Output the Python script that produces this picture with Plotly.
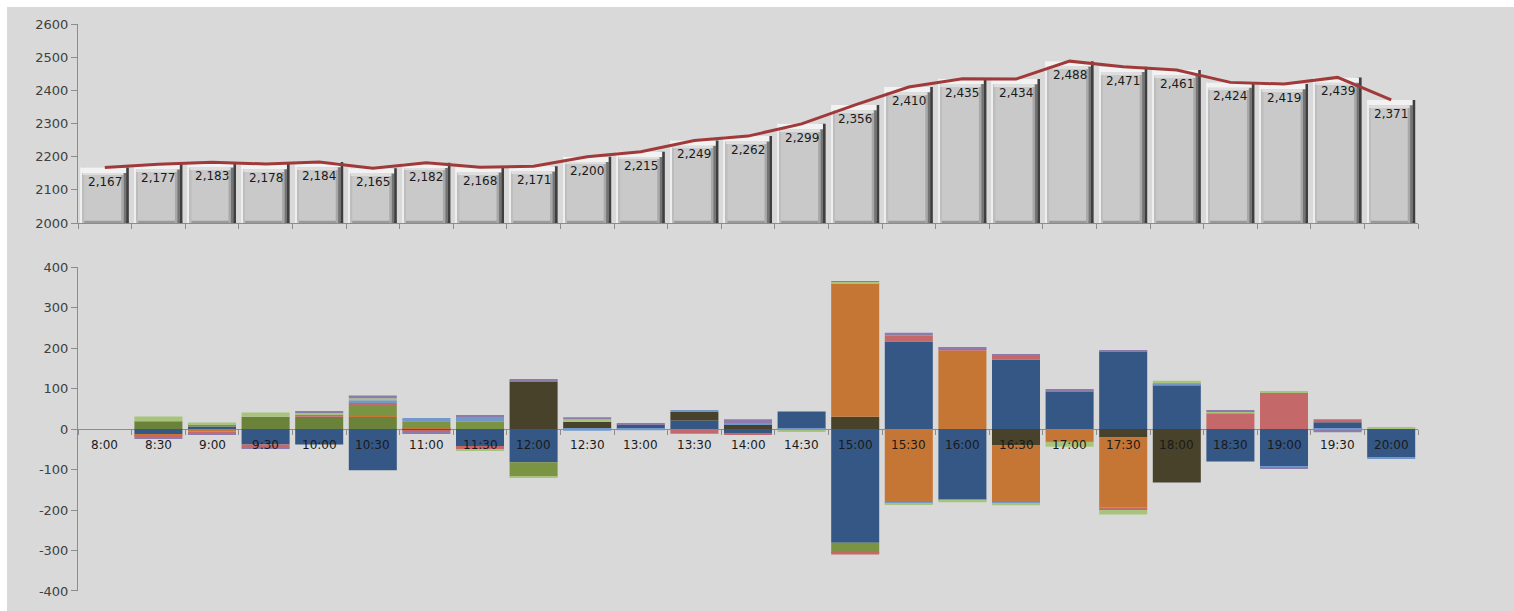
import plotly.graph_objects as go

# ---- data -------------------------------------------------------------
times = ["8:00", "8:30", "9:00", "9:30", "10:00", "10:30", "11:00", "11:30",
         "12:00", "12:30", "13:00", "13:30", "14:00", "14:30", "15:00", "15:30",
         "16:00", "16:30", "17:00", "17:30", "18:00", "18:30", "19:00", "19:30",
         "20:00"]

totals = [2167, 2177, 2183, 2178, 2184, 2165, 2182, 2168, 2171, 2200, 2215,
          2249, 2262, 2299, 2356, 2410, 2435, 2434, 2488, 2471, 2461, 2424,
          2419, 2439, 2371]

# per-slot changes, one list per group (stacked in this order)
g_darkgreen = [0, 19, 0, 30, 30, 30, 0, 0, 0, 0, 0, 0, 0, 0, 0, 0, 0, 0, 0, 0, 0, 0, 0, 0, 0]
g_blue = [0, -13, 6, -38, -38, -102, -4, -42, -82, 0, 11, 21, -12, 43, -281, 216,
          -174, 171, 92, 192, 108, -80, -93, 17, -70]
g_brown = [0, 0, 0, 0, 0, 0, 0, 0, 117, 18, 0, 21, 10, 0, 30, 0, 0, -41, 0, -21,
           -132, 0, 0, 0, 0]
g_orange = [0, -4, -6, 0, 0, 3, 4, 0, 0, 0, 0, 0, 0, 0, 330, -181, 193, -141, -30,
            -173, 0, 0, 0, 0, 0]
g_olive = [0, 0, 6, 0, 0, 24, 15, 18, -35, 0, 0, 0, 0, 0, -25, 0, 0, 0, 0, 0, 0,
           0, 0, 0, 0]
g_red = [0, -3, -5, -8, 6, 7, -4, -8, 2, 0, 0, -12, -3, 0, -4, 15, 6, 11, 4, -6,
         3, 39, 90, 7, 0]
g_lightblue = [0, 0, 0, 0, 0, 7, 8, 13, 0, -4, -3, 4, 5, -3, 0, -2, -3, -2, -2, 0,
               2, 0, -3, -4, -4]
g_lightgreen = [0, 12, 4, 11, 4, 5, 0, -3, -2, 6, 0, 0, 0, -2, 3, -4, -4, -4, -12,
                -11, 6, 5, 2, 0, 3]
g_purple = [0, -3, -3, -2, 4, 7, -3, 3, 2, 5, 3, 0, 9, 0, 2, 7, 3, 3, 3, 2, 0, 2,
            -2, -4, 0]

top_ticks = [2000, 2100, 2200, 2300, 2400, 2500, 2600]
bottom_ticks = [-400, -300, -200, -100, 0, 100, 200, 300, 400]
bottom_tick_text = ["-400", "-300", "-200", "-100", "0", "100", "200", "300", "400"]

# ---- style ------------------------------------------------------------
W, H = 1514, 611
ML, MR, MT, MB = 78, 96, 24, 20
BG = "#d9d9d9"
AXIS = "#8c8c8c"
FONT = "DejaVu Sans"
TOP_DOMAIN = [0.649, 1.0]
BOT_DOMAIN = [0.0, 0.5714]

groups = [
    ("Group 1", g_darkgreen, "#6a8239"),
    ("Group 2", g_blue, "#345785"),
    ("Group 3", g_brown, "#48422a"),
    ("Group 4", g_orange, "#c57634"),
    ("Group 5", g_olive, "#7b9444"),
    ("Group 6", g_red, "#c4686a"),
    ("Group 7", g_lightblue, "#7298c9"),
    ("Group 8", g_lightgreen, "#a8c47c"),
    ("Group 9", g_purple, "#8d7bab"),
]

fig = go.Figure()

# ---- top panel: bevelled total bars ------------------------------------
half = 0.448
n = len(totals)


def top_bar(y, base, offset, width, color):
    fig.add_bar(x=times, y=y, base=base, offset=offset, width=width,
                marker=dict(color=color, line=dict(width=0)),
                xaxis="x", yaxis="y", hoverinfo="skip", showlegend=False)


top_bar(totals, 0, -half, 2 * half, "#c9c9c9")                       # face
top_bar([7] * n, 2000, -half, 2 * half, "#9a9a9a")                  # bottom edge
top_bar(totals, 0, -half, 0.035, "#eeeeee")                         # left highlight
top_bar(totals, 0, -half + 0.035, 0.03, "#bdbdbd")
top_bar(totals, 0, half - 0.14, 0.045, "#a8a8a8")                   # right shading
top_bar(totals, 0, half - 0.095, 0.045, "#747474")
top_bar(totals, 0, half - 0.05, 0.05, "#3f3f3f")
top_bar([16] * n, [v - 16 for v in totals], -half, 2 * half - 0.05, "#f2f2f2")  # top bevel
top_bar([6] * n, [v - 22 for v in totals], -half + 0.035, 2 * half - 0.14, "#dedede")

fig.add_scatter(x=times, y=totals, mode="lines", xaxis="x", yaxis="y",
                line=dict(color="#a03a3a", width=3), hoverinfo="skip",
                showlegend=False)

annotations = []
for t, v in zip(times, totals):
    annotations.append(dict(x=t, y=v, xref="x", yref="y", yshift=-14,
                            text=f"{v:,}", showarrow=False,
                            font=dict(family=FONT, size=12, color="#1a1a1a")))

# ---- bottom panel: stacked changes -------------------------------------
for name, vals, color in groups:
    fig.add_bar(x=times, y=vals, name=name, width=2 * half,
                marker=dict(color=color, line=dict(width=0)),
                xaxis="x2", yaxis="y2", hoverinfo="skip", showlegend=False)

for t in times:
    annotations.append(dict(x=t, y=0, xref="x2", yref="y2", yshift=-16,
                            text=t, showarrow=False,
                            font=dict(family=FONT, size=12, color="#1a1a1a")))

# white frame strip on the left and top edges
plot_w = W - ML - MR
plot_h = H - MT - MB
shapes = [
    dict(type="rect", xref="paper", yref="paper",
         x0=-ML / plot_w, x1=(7 - ML) / plot_w,
         y0=-MB / plot_h, y1=(H - MB) / plot_h,
         fillcolor="white", line=dict(width=0), layer="above"),
    dict(type="rect", xref="paper", yref="paper",
         x0=-ML / plot_w, x1=(W - ML) / plot_w,
         y0=(H - MB - 7) / plot_h, y1=(H - MB) / plot_h,
         fillcolor="white", line=dict(width=0), layer="above"),
]

tickfont = dict(family=FONT, size=13, color="#404040")
zero_pos = BOT_DOMAIN[0] + (BOT_DOMAIN[1] - BOT_DOMAIN[0]) / 2

fig.update_layout(
    width=W, height=H,
    margin=dict(l=ML, r=MR, t=MT, b=MB, pad=0),
    paper_bgcolor=BG, plot_bgcolor=BG,
    barmode="relative", bargap=0.104,
    showlegend=False,
    annotations=annotations,
    shapes=shapes,
    xaxis=dict(domain=[0, 1], anchor="y", type="category",
               range=[-0.5, n - 0.5], showline=True, linecolor=AXIS,
               linewidth=1, ticks="outside", tickson="boundaries", ticklen=5,
               tickcolor=AXIS, showticklabels=False, showgrid=False,
               zeroline=False),
    yaxis=dict(domain=TOP_DOMAIN, anchor="x", range=[2000, 2600],
               tickvals=top_ticks, ticks="outside", ticklen=6, tickcolor=AXIS,
               showline=True, linecolor=AXIS, linewidth=1, showgrid=False,
               zeroline=False, tickfont=tickfont),
    xaxis2=dict(domain=[0, 1], anchor="free", position=zero_pos,
                type="category", range=[-0.5, n - 0.5], showline=True,
                linecolor=AXIS, linewidth=1, ticks="outside",
                tickson="boundaries", ticklen=5, tickcolor=AXIS,
                showticklabels=False, showgrid=False, zeroline=False,
                layer="below traces"),
    yaxis2=dict(domain=BOT_DOMAIN, anchor="x2", range=[-400, 400],
                tickvals=bottom_ticks, ticktext=bottom_tick_text,
                ticks="outside", ticklen=6, tickcolor=AXIS, showline=True,
                linecolor=AXIS, linewidth=1, showgrid=False, zeroline=False,
                tickfont=tickfont),
)

fig.write_html("out.html")
